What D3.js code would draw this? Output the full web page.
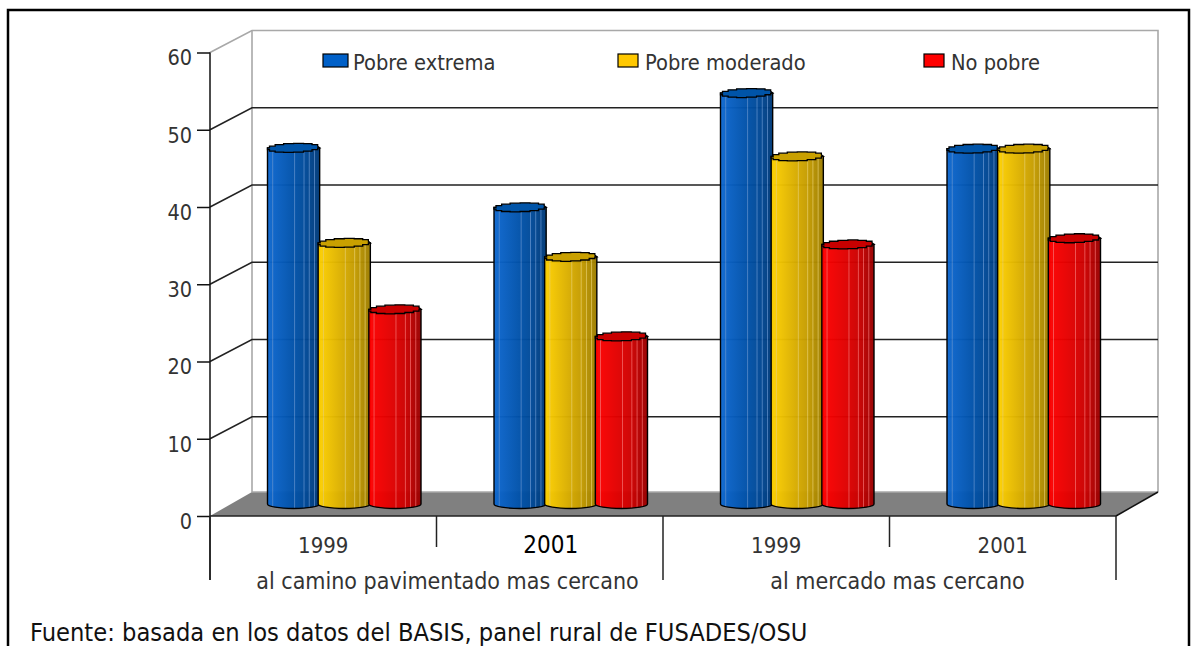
<!DOCTYPE html>
<html>
<head>
<meta charset="utf-8">
<script src="https://cdn.jsdelivr.net/npm/d3@7"></script>
<style>
  body { margin: 0; background: #fff; }
  text { font-family: "DejaVu Sans"; font-stretch: condensed; fill: #333; }
</style>
</head>
<body>
<div id="chart"></div>
<script>
// values
var bars = ["a", "b", "c", "d"];
var years = ["1999", "2001", "1999", "2001"];
var groups = ["al camino pavimentado mas cercano", "al mercado mas cercano"];
var seriesNames = ["Pobre extrema", "Pobre moderado", "No pobre"];
var pobreExtrema = [46.1, 38.4, 53.2, 46];
var pobreModerado = [33.8, 32, 45, 46];
var noPobre = [25.2, 21.7, 33.6, 34.4];
var yTicks = [0, 10, 20, 30, 40, 50, 60];

var seriesValues = [pobreExtrema, pobreModerado, noPobre];

// body colours of each cylinder: base from left to right, then the pale stripe
var bodyBase = [
  ["#0f68d0", "#0056b4", "#004a9a", "#003a78"],
  ["#ffd200", "#e2b400", "#c49c00", "#9c7c00"],
  ["#ff0000", "#e80000", "#cc0000", "#980000"]
];
var stripeColors = ["#5f8fcc", "#e6cc66", "#f46a6a"];
var topColors = ["#0054a8", "#c9a000", "#c80000"];
var legendColors = ["#0060c8", "#ffc800", "#ff0000"];

var width = 1191, height = 646;
var depthX = 42, depthY = 22;       // offset of the back wall
var floorDepth = 24;
var barDepthX = 21, barDepthY = 12; // bars stand half way in
var legendX = [323, 618, 924];
var legendW = [25, 20, 20];

var svg = d3.select("#chart").append("svg")
  .attr("width", width)
  .attr("height", height)
  .style("display", "block");

var y = d3.scaleLinear().domain([0, 60]).range([516, 52.5]);
var x = d3.scaleBand().domain(bars).range([210, 1116]);
var xGroup = d3.scaleBand().domain(groups).range([210, 1116]);
var xInner = d3.scaleBand().domain(seriesNames).range([57.5, 209.5]);

// gradients, with thin soft stripes laid over the base colours
var defs = svg.append("defs");
var stripes = [0.1, 0.52, 0.7, 0.8, 0.9];
bodyBase.forEach(function(base, i){
  var g = defs.append("linearGradient").attr("id", "body" + i);
  var shade = d3.scaleLinear().domain([0, 0.35, 0.7, 1]).range(base);
  var add = function(o, c){ g.append("stop").attr("offset", o).attr("stop-color", c); };
  add(0, shade(0));
  stripes.forEach(function(o){
    add(o - 0.018, shade(o - 0.018));
    add(o, d3.interpolateRgb(shade(o), stripeColors[i])(0.75));
    add(o + 0.018, shade(o + 0.018));
  });
  add(1, shade(1));
});

// outer frame, open at the bottom
svg.append("path")
  .attr("d", "M8,646V10H1189V646")
  .attr("fill", "none")
  .attr("stroke", "#000")
  .attr("stroke-width", 2.5);

// back wall
var backLeft = 210 + depthX, backRight = 1116 + depthX;
svg.append("path")
  .attr("d", "M210," + y(60) + "L" + backLeft + "," + (y(60) - depthY)
    + "H" + backRight + "V" + (y(0) - floorDepth))
  .attr("fill", "none")
  .attr("stroke", "#a8a8a8")
  .attr("stroke-width", 1.6);
svg.append("line")
  .attr("x1", backLeft).attr("x2", backLeft)
  .attr("y1", y(60) - depthY).attr("y2", y(0) - floorDepth)
  .attr("stroke", "#a8a8a8")
  .attr("stroke-width", 1.6);

// gridlines along side and back wall
svg.selectAll(".grid")
  .data(yTicks.filter(function(d){ return d > 0 && d < 60; }))
  .enter().append("path")
  .attr("class", "grid")
  .attr("d", function(d){
    return "M210," + y(d) + "L" + backLeft + "," + (y(d) - depthY) + "H" + backRight;
  })
  .attr("fill", "none")
  .attr("stroke", "#222")
  .attr("stroke-width", 1.5);

// floor
svg.append("path")
  .attr("d", "M210," + y(0) + "L" + backLeft + "," + (y(0) - floorDepth)
    + "H" + backRight + "L1116," + y(0) + "Z")
  .attr("fill", "#808080");
svg.append("line")
  .attr("x1", backLeft).attr("x2", backRight)
  .attr("y1", y(0) - floorDepth).attr("y2", y(0) - floorDepth)
  .attr("stroke", "#a8a8a8")
  .attr("stroke-width", 1.6);
svg.append("line")
  .attr("x1", 1116).attr("x2", backRight)
  .attr("y1", y(0)).attr("y2", y(0) - floorDepth)
  .attr("stroke", "#111")
  .attr("stroke-width", 1.5);

// y axis
var yAxis = d3.axisLeft(y).tickValues(yTicks).tickSize(13).tickPadding(5);
var yG = svg.append("g")
  .attr("transform", "translate(210,0)")
  .call(yAxis);
yG.select(".domain").remove();
yG.selectAll("line").attr("stroke", "#111").attr("stroke-width", 1.5);
yG.selectAll("text")
  .attr("font-size", 21.5)
  .style("font-family", "DejaVu Sans")
  .attr("dy", "0.58em");

svg.append("line")
  .attr("x1", 210).attr("x2", 210)
  .attr("y1", y(60)).attr("y2", 580)
  .attr("stroke", "#111").attr("stroke-width", 1.5);
svg.append("line")
  .attr("x1", 210).attr("x2", 1116)
  .attr("y1", y(0)).attr("y2", y(0))
  .attr("stroke", "#222").attr("stroke-width", 1.6);

// dividers under the floor
bars.concat(["end"]).forEach(function(d, i){
  var px = d === "end" ? x.range()[1] : x(d);
  svg.append("line")
    .attr("x1", px).attr("x2", px)
    .attr("y1", y(0))
    .attr("y2", i % 2 === 0 ? 580 : 547)
    .attr("stroke", "#222")
    .attr("stroke-width", 1.5);
});

// slightly rough ring for the top of a cylinder, like the original
var ring = d3.line().curve(d3.curveStepAfter);
function ellipsePoints(cx, cy, rx, ry){
  return d3.range(0, 16).map(function(k){
    var a = k / 16 * 2 * Math.PI;
    return [cx + rx * Math.cos(a), cy + ry * Math.sin(a)];
  });
}

// cylinders
seriesNames.forEach(function(name, s){
  var g = svg.append("g").attr("class", "series");
  var values = seriesValues[s];
  bars.forEach(function(b, i){
    var w = xInner.bandwidth() + 1.5;
    var cx = x(b) + xInner(name) + w / 2;
    var rx = w / 2, ry = 4.5;
    var top = y(values[i]) - barDepthY;
    var base = y(0) - barDepthY;
    g.append("path")
      .attr("d", "M" + (cx - rx) + "," + top + "V" + base
        + "A" + rx + "," + ry + " 0 0 0 " + (cx + rx) + "," + base
        + "V" + top + "Z")
      .attr("fill", "url(#body" + s + ")")
      .attr("fill-opacity", 0.97)
      .attr("stroke", "#000")
      .attr("stroke-width", 1.4);
    g.append("path")
      .attr("d", ring(ellipsePoints(cx, top, rx, ry)) + "Z")
      .attr("fill", topColors[s])
      .attr("stroke", "#000")
      .attr("stroke-width", 1.3);
  });
});

// category labels
svg.selectAll(".year")
  .data(years)
  .enter().append("text")
  .attr("class", "year")
  .attr("x", function(d, i){ return x(bars[i]) + x.bandwidth() / 2 + (i === 1 ? 1 : 0); })
  .attr("y", 552.5)
  .attr("text-anchor", "middle")
  .attr("font-size", function(d, i){ return i === 1 ? 24 : 22; })
  .style("fill", function(d, i){ return i === 1 ? "#000" : "#333"; })
  .text(function(d){ return d; });

svg.selectAll(".group")
  .data(groups)
  .enter().append("text")
  .attr("class", "group")
  .attr("x", function(d, i){ return xGroup(d) + xGroup.bandwidth() / 2 + (i === 0 ? 11 : 8); })
  .attr("y", 589)
  .attr("text-anchor", "middle")
  .attr("font-size", 23)
  .text(function(d){ return d; });

// legend
var legend = svg.selectAll(".legend")
  .data(seriesNames)
  .enter().append("g")
  .attr("class", "legend")
  .attr("transform", function(d, i){ return "translate(" + legendX[i] + ",0)"; });
legend.append("rect")
  .attr("y", 54).attr("height", 13)
  .attr("width", function(d, i){ return legendW[i]; })
  .attr("fill", function(d, i){ return legendColors[i]; })
  .attr("stroke", "#000")
  .attr("stroke-width", 1.2);
legend.append("text")
  .attr("x", function(d, i){ return legendW[i] + (i === 0 ? 5 : 7); })
  .attr("y", 70)
  .attr("font-size", 21.7)
  .text(function(d){ return d; });

// source note
svg.append("text")
  .attr("x", 30).attr("y", 641)
  .attr("font-size", 25.2)
  .style("fill", "#111")
  .text("Fuente: basada en los datos del BASIS, panel rural de FUSADES/OSU");
</script>
</body>
</html>
